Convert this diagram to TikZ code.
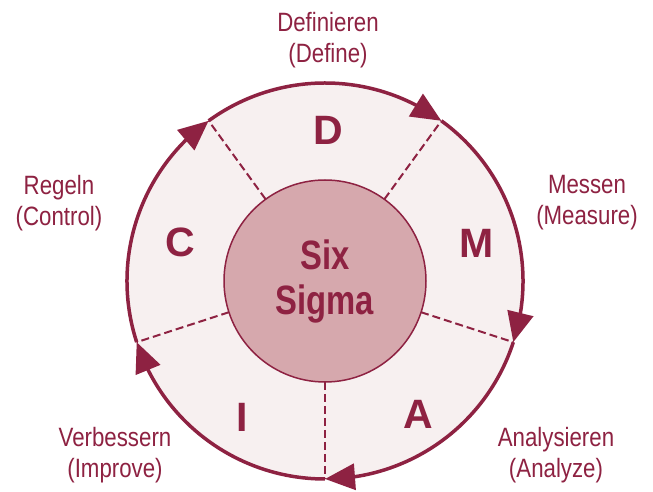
\documentclass[tikz,border=0pt]{standalone}
\usepackage{fontspec}
\setmainfont{Liberation Sans}
\newfontfamily\labelfont[FakeStretch=0.84]{Liberation Sans}
\newfontfamily\corefont[FakeStretch=0.8]{Liberation Sans}
\usetikzlibrary{arrows.meta,bending}
\definecolor{sixred}{RGB}{142,34,66}
\definecolor{ringin}{RGB}{247,240,240}
\definecolor{ringout}{RGB}{234,214,217}
\definecolor{corefill}{RGB}{214,168,173}
\pgfdeclareradialshading{ringshade}{\pgfpoint{0bp}{0bp}}{color(0bp)=(ringin); color(27bp)=(ringin); color(50bp)=(ringout)}
\begin{document}
\begin{tikzpicture}[x=1pt,y=1pt,
  phase/.style={font=\fontsize{41}{41}\selectfont\bfseries, text=sixred, inner sep=0},
  stage/.style={font=\labelfont\fontsize{26.5}{31}\selectfont, text=sixred, align=center, inner sep=0},
  cycle/.style={draw=sixred, line width=3.5, -{Triangle[length=30,width=26]}},
  divider/.style={draw=sixred, line width=2, dash pattern=on 8 off 4},
]
\useasboundingbox (0,0) rectangle (653,492);
\fill[white] (0,0) rectangle (653,492);
\coordinate (c) at (325,211);

% shaded ring and the Six Sigma core
\node[circle, minimum size=396, inner sep=0, outer sep=0, shading=ringshade] (ring) at (c) {};
\node[circle, minimum size=202, inner sep=0, outer sep=0, fill=corefill, draw=sixred, line width=1.5,
      align=center, text=sixred, font=\corefont\bfseries\fontsize{41}{45}\selectfont] (core) at (c) {Six\\Sigma};

% dashed borders between the phases
\foreach \a in {126,54,-18,-90,-162}
  \draw[divider] (core.\a) -- (ring.\a);

% clockwise cycle arrows
\draw[cycle] (ring.198) arc[start angle=198, end angle=126, radius=198];
\draw[cycle] (ring.126) arc[start angle=126, end angle=54, radius=198];
\draw[cycle] (ring.54) arc[start angle=54, end angle=-18, radius=198];
\draw[cycle] (ring.-18) arc[start angle=-18, end angle=-90, radius=198];
\draw[cycle] (ring.-90) arc[start angle=-90, end angle=-162, radius=198];

% phase letters
\node[phase] (d) at (328,362) {D};
\node[phase] (m) at (477,249) {M};
\node[phase] (a) at (418,78) {A};
\node[phase] (i) at (242,75) {I};
\node[phase] (cc) at (180,250) {C};

% phase names
\node[stage] (define) at (328,452) {Definieren\\(Define)};
\node[stage] (measure) at (587,289) {Messen\\(Measure)};
\node[stage] (analyze) at (556,37) {Analysieren\\(Analyze)};
\node[stage] (improve) at (115,37) {Verbessern\\(Improve)};
\node[stage] (control) at (59,289) {Regeln\\(Control)};
\end{tikzpicture}
\end{document}
